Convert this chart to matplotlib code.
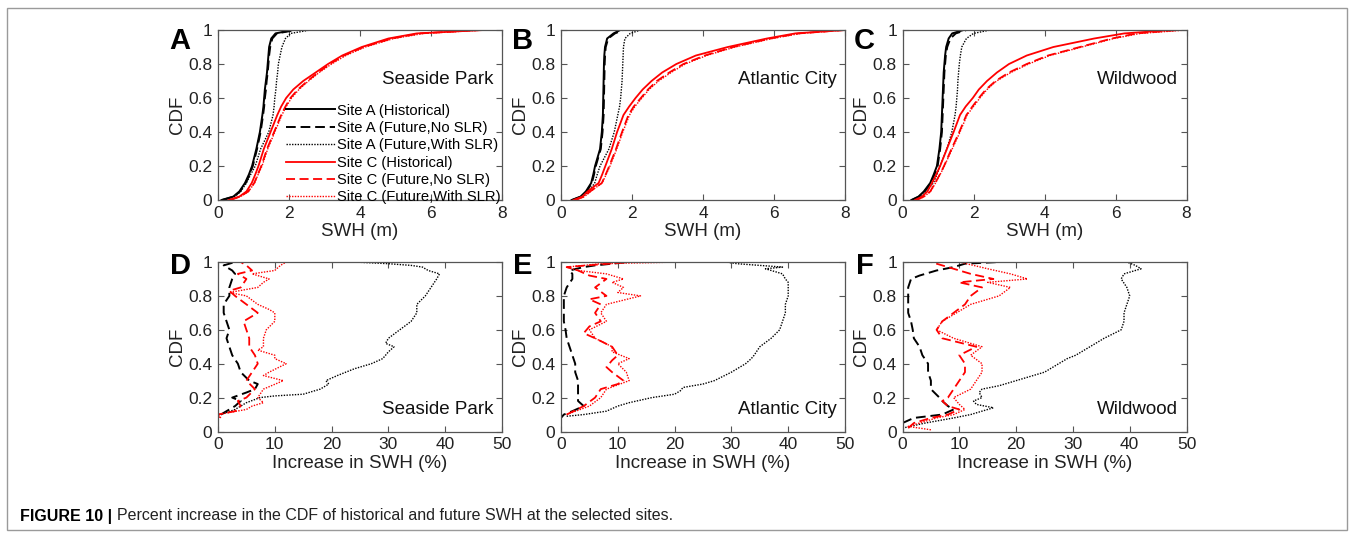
import numpy as np
import matplotlib
matplotlib.use('Agg')
import matplotlib.pyplot as plt
from matplotlib.patches import Rectangle

plt.rcParams['font.family'] = ['Liberation Sans', 'DejaVu Sans']

# CDF levels used for the quantile curves (top row)
cdf_q = [0, 0.02, 0.05, 0.1, 0.15, 0.2, 0.3, 0.4, 0.5, 0.55, 0.6, 0.65, 0.7, 0.75, 0.8, 0.85, 0.9, 0.95, 0.98, 1.0]

# SWH (m) at each CDF level - Seaside Park
sp_a_hist = [0.1, 0.43, 0.6, 0.76, 0.87, 0.96, 1.08, 1.18, 1.25, 1.28, 1.3, 1.32, 1.35, 1.38, 1.4, 1.42, 1.44, 1.5, 1.62, 2.1]
sp_a_fut = [0.12, 0.45, 0.62, 0.78, 0.89, 0.98, 1.1, 1.2, 1.27, 1.3, 1.32, 1.35, 1.37, 1.4, 1.42, 1.44, 1.47, 1.53, 1.66, 2.2]
sp_a_slr = [0.15, 0.47, 0.64, 0.8, 0.92, 1.05, 1.2, 1.43, 1.55, 1.58, 1.6, 1.63, 1.65, 1.68, 1.7, 1.75, 1.8, 1.9, 2.05, 2.6]
sp_c_hist = [0.3, 0.6, 0.8, 0.95, 1.05, 1.14, 1.29, 1.48, 1.67, 1.78, 1.92, 2.12, 2.4, 2.75, 3.1, 3.5, 4.05, 4.8, 5.6, 7.5]
sp_c_fut = [0.35, 0.62, 0.85, 1.02, 1.12, 1.22, 1.38, 1.58, 1.78, 1.9, 2.04, 2.25, 2.52, 2.82, 3.15, 3.55, 4.1, 4.9, 5.7, 7.4]
sp_c_slr = [0.35, 0.63, 0.86, 1.03, 1.13, 1.24, 1.4, 1.6, 1.8, 1.92, 2.07, 2.28, 2.55, 2.85, 3.2, 3.6, 4.15, 4.95, 5.8, 7.5]

# Atlantic City
ac_a_hist = [0.3, 0.55, 0.7, 0.85, 0.91, 0.96, 1.1, 1.15, 1.18, 1.185, 1.19, 1.195, 1.2, 1.205, 1.21, 1.22, 1.24, 1.3, 1.48, 1.67]
ac_a_fut = [0.32, 0.57, 0.72, 0.87, 0.93, 0.98, 1.12, 1.17, 1.2, 1.205, 1.21, 1.215, 1.22, 1.225, 1.23, 1.24, 1.26, 1.33, 1.52, 1.75]
ac_a_slr = [0.35, 0.6, 0.78, 0.95, 1.02, 1.1, 1.35, 1.5, 1.6, 1.65, 1.68, 1.7, 1.72, 1.73, 1.74, 1.75, 1.76, 1.8, 1.95, 2.24]
ac_c_hist = [0.35, 0.6, 0.75, 1.06, 1.16, 1.25, 1.43, 1.58, 1.76, 1.92, 2.1, 2.3, 2.55, 2.85, 3.25, 3.8, 4.7, 5.8, 6.6, 8.0]
ac_c_fut = [0.4, 0.65, 0.82, 1.15, 1.26, 1.36, 1.55, 1.72, 1.9, 2.05, 2.25, 2.45, 2.7, 3.05, 3.45, 4.05, 4.85, 5.9, 6.7, 8.0]
ac_c_slr = [0.4, 0.66, 0.83, 1.16, 1.27, 1.38, 1.57, 1.74, 1.93, 2.08, 2.28, 2.48, 2.75, 3.1, 3.5, 4.1, 4.9, 5.95, 6.75, 8.0]

# Wildwood
ww_a_hist = [0.25, 0.45, 0.6, 0.78, 0.88, 0.97, 1.04, 1.09, 1.11, 1.12, 1.13, 1.14, 1.15, 1.16, 1.18, 1.2, 1.23, 1.3, 1.4, 1.72]
ww_a_fut = [0.27, 0.47, 0.62, 0.8, 0.9, 0.99, 1.06, 1.11, 1.13, 1.14, 1.15, 1.16, 1.17, 1.18, 1.2, 1.22, 1.26, 1.35, 1.5, 1.8]
ww_a_slr = [0.3, 0.5, 0.66, 0.87, 0.97, 1.06, 1.25, 1.39, 1.48, 1.51, 1.53, 1.55, 1.56, 1.58, 1.6, 1.63, 1.67, 1.8, 2.0, 2.47]
ww_c_hist = [0.35, 0.55, 0.7, 0.83, 0.95, 1.06, 1.25, 1.44, 1.62, 1.78, 1.98, 2.15, 2.38, 2.66, 3.0, 3.5, 4.25, 5.4, 6.25, 7.6]
ww_c_fut = [0.4, 0.6, 0.78, 0.92, 1.05, 1.17, 1.38, 1.6, 1.8, 1.97, 2.15, 2.35, 2.62, 3.0, 3.5, 4.1, 5.0, 5.9, 6.6, 7.8]
ww_c_slr = [0.4, 0.61, 0.79, 0.93, 1.06, 1.18, 1.4, 1.62, 1.82, 2.0, 2.18, 2.38, 2.65, 3.05, 3.55, 4.15, 5.05, 5.95, 6.7, 8.0]

# Increase in SWH (%) vs CDF (bottom row)
# Seaside Park
sp_inc_a_fut_cdf = [0.1, 0.13, 0.15, 0.18, 0.2, 0.23, 0.25, 0.28, 0.3, 0.35, 0.4, 0.45, 0.5, 0.55, 0.6, 0.65, 0.7, 0.75, 0.8, 0.85, 0.9, 0.93, 0.95, 0.98, 1.0]
sp_inc_a_fut = [0.5, 2, 3, 4, 2.5, 5, 6.5, 7, 5.5, 4, 3.5, 2.5, 2, 1.5, 2, 1.5, 1, 1, 2, 2, 2.5, 3, 2.5, 1, 3]
sp_inc_a_slr_cdf = [0.1, 0.13, 0.15, 0.17, 0.2, 0.21, 0.22, 0.25, 0.28, 0.3, 0.33, 0.37, 0.4, 0.43, 0.47, 0.5, 0.52, 0.55, 0.6, 0.65, 0.7, 0.75, 0.8, 0.85, 0.9, 0.93, 0.95, 0.97, 0.98, 0.99, 1.0]
sp_inc_a_slr = [0.5, 3, 4, 5, 7.4, 10, 15, 18, 19.5, 19, 21, 24, 27, 29, 30, 31, 29.5, 30, 32, 34, 35, 35, 36.5, 37.5, 38.5, 39, 37, 36, 34, 30, 24]
sp_inc_c_fut_cdf = [0.08, 0.1, 0.12, 0.15, 0.18, 0.2, 0.25, 0.3, 0.35, 0.4, 0.45, 0.5, 0.55, 0.6, 0.65, 0.7, 0.75, 0.8, 0.83, 0.85, 0.9, 0.93, 0.95, 0.98, 1.0]
sp_inc_c_fut = [0.2, 0, 3, 4, 3.5, 5, 6.5, 5, 6, 7, 6.5, 5.5, 5.5, 5, 4.5, 7, 5, 3, 2, 4, 5, 3.5, 6, 5, 4]
sp_inc_c_slr_cdf = [0.08, 0.1, 0.13, 0.15, 0.17, 0.2, 0.25, 0.3, 0.33, 0.35, 0.4, 0.43, 0.45, 0.48, 0.5, 0.55, 0.6, 0.65, 0.7, 0.72, 0.75, 0.8, 0.82, 0.85, 0.88, 0.9, 0.93, 0.95, 0.98, 1.0]
sp_inc_c_slr = [0.5, 0, 5, 6, 8, 7, 8, 11.5, 8, 9, 12, 10, 10, 7, 8, 8, 8.5, 10, 10, 9, 7, 5, 2, 7, 8, 9, 6, 10, 11, 12]

# Atlantic City
ac_inc_a_fut_cdf = [0.06, 0.08, 0.1, 0.12, 0.15, 0.18, 0.22, 0.25, 0.3, 0.35, 0.4, 0.45, 0.5, 0.55, 0.6, 0.65, 0.7, 0.75, 0.8, 0.85, 0.9, 0.93, 0.95, 0.97, 0.98, 1.0]
ac_inc_a_fut = [0, 0, 0.5, 2, 4, 3, 3, 3, 3, 2.5, 2.5, 2, 1.5, 1, 0.8, 0.5, 0.5, 0.5, 0.5, 1, 2, 2, 1.5, 4, 6, 12]
ac_inc_a_slr_cdf = [0.09, 0.1, 0.12, 0.15, 0.17, 0.2, 0.22, 0.24, 0.26, 0.28, 0.3, 0.35, 0.4, 0.43, 0.45, 0.5, 0.55, 0.6, 0.65, 0.7, 0.75, 0.8, 0.85, 0.88, 0.9, 0.93, 0.96, 0.97, 0.98, 0.99, 1.0]
ac_inc_a_slr = [1, 4, 8, 10, 12, 16, 20, 21, 21.5, 25, 27, 30, 32.5, 33.5, 34, 35, 37, 38.5, 39, 39.5, 39.5, 40, 40, 40, 39.5, 39, 36, 39, 35, 31, 29]
ac_inc_c_fut_cdf = [0.1, 0.15, 0.2, 0.25, 0.28, 0.3, 0.35, 0.38, 0.42, 0.45, 0.5, 0.55, 0.58, 0.62, 0.65, 0.7, 0.75, 0.78, 0.8, 0.85, 0.9, 0.92, 0.95, 0.97, 1.0]
ac_inc_c_fut = [1, 4, 6, 7, 10, 11, 9, 8, 9, 10, 9, 6, 4, 5, 7, 6, 7, 5, 8, 6, 8, 5, 3, 1, 12]
ac_inc_c_slr_cdf = [0.1, 0.15, 0.2, 0.25, 0.3, 0.35, 0.4, 0.43, 0.47, 0.5, 0.55, 0.6, 0.65, 0.7, 0.75, 0.8, 0.82, 0.85, 0.88, 0.9, 0.93, 0.95, 0.97, 0.99, 1.0]
ac_inc_c_slr = [1, 5, 7, 8, 12, 11.5, 10, 12, 9, 9, 6, 5, 8, 7, 8, 14, 10, 11, 9, 11, 8, 3, 1, 7, 21]

# Wildwood
ww_inc_a_fut_cdf = [0.05, 0.08, 0.1, 0.13, 0.15, 0.18, 0.2, 0.25, 0.3, 0.35, 0.4, 0.45, 0.5, 0.55, 0.6, 0.65, 0.7, 0.75, 0.8, 0.85, 0.9, 0.92, 0.95, 0.97, 0.99, 1.0]
ww_inc_a_fut = [0, 2, 7, 9, 8, 7, 6.5, 5, 5, 4.5, 4.5, 3.5, 3, 2, 1.8, 1.5, 1, 1, 1, 1, 1.5, 3, 6, 9, 11, 17]
ww_inc_a_slr_cdf = [0.02, 0.05, 0.08, 0.1, 0.12, 0.14, 0.16, 0.18, 0.2, 0.23, 0.25, 0.27, 0.3, 0.32, 0.35, 0.4, 0.43, 0.45, 0.5, 0.55, 0.6, 0.65, 0.7, 0.75, 0.8, 0.85, 0.9, 0.93, 0.96, 0.98, 1.0]
ww_inc_a_slr = [0, 4, 9, 12, 14, 16, 13, 12.5, 14, 13.5, 14, 17, 20, 22, 25, 27.5, 29, 30.5, 33, 35.5, 38.5, 39, 39, 39.5, 40, 39.5, 38.5, 39, 42, 41, 39.5]
ww_inc_c_fut_cdf = [0.02, 0.05, 0.08, 0.1, 0.13, 0.15, 0.18, 0.2, 0.25, 0.3, 0.35, 0.4, 0.45, 0.5, 0.55, 0.6, 0.65, 0.7, 0.75, 0.8, 0.85, 0.88, 0.9, 0.93, 0.96, 1.0]
ww_inc_c_fut = [1, 2, 5, 8, 10, 8, 7, 8, 9, 10, 11, 11, 10, 13, 7, 6, 7, 9, 11, 12, 14, 10, 16, 12, 9, 5]
ww_inc_c_slr_cdf = [0.01, 0.03, 0.05, 0.08, 0.1, 0.13, 0.16, 0.2, 0.25, 0.3, 0.35, 0.4, 0.45, 0.5, 0.55, 0.6, 0.65, 0.7, 0.75, 0.8, 0.85, 0.88, 0.9, 0.93, 0.96, 1.0]
ww_inc_c_slr = [5, 1, 3, 6, 9, 11, 10, 9, 12, 13, 14, 14, 12, 14, 9, 6, 7, 9.5, 12, 17, 19, 15, 22, 19, 15, 10]

legend_labels = ['Site A (Historical)', 'Site A (Future,No SLR)', 'Site A (Future,With SLR)',
                 'Site C (Historical)', 'Site C (Future,No SLR)', 'Site C (Future,With SLR)']
site_names = ['Seaside Park', 'Atlantic City', 'Wildwood']
panel_letters = ['A', 'B', 'C', 'D', 'E', 'F']

W, H = 1355, 538
fig = plt.figure(figsize=(W / 100, H / 100), dpi=100)

# frame around the whole figure
fig.patches.append(Rectangle((7 / W, 8 / H), 1340 / W, 522 / H, transform=fig.transFigure,
                             fill=False, edgecolor='#9a9a9a', linewidth=1.0))

lefts = [218, 561, 902.5]
ax_w = 284
top_row = (30, 200)
bot_row = (262, 431.5)

styles = [
    dict(color='black', linestyle='-', linewidth=1.4),
    dict(color='black', linestyle=(0, (5, 2.5)), linewidth=1.4),
    dict(color='black', linestyle=(0, (1, 1)), linewidth=1.0),
    dict(color='red', linestyle='-', linewidth=1.3),
    dict(color='red', linestyle=(0, (5, 2.5)), linewidth=1.3),
    dict(color='red', linestyle=(0, (1, 1)), linewidth=1.0),
]

top_data = [
    [sp_a_hist, sp_a_fut, sp_a_slr, sp_c_hist, sp_c_fut, sp_c_slr],
    [ac_a_hist, ac_a_fut, ac_a_slr, ac_c_hist, ac_c_fut, ac_c_slr],
    [ww_a_hist, ww_a_fut, ww_a_slr, ww_c_hist, ww_c_fut, ww_c_slr],
]
bot_data = [
    [(sp_inc_a_fut, sp_inc_a_fut_cdf), (sp_inc_a_slr, sp_inc_a_slr_cdf),
     (sp_inc_c_fut, sp_inc_c_fut_cdf), (sp_inc_c_slr, sp_inc_c_slr_cdf)],
    [(ac_inc_a_fut, ac_inc_a_fut_cdf), (ac_inc_a_slr, ac_inc_a_slr_cdf),
     (ac_inc_c_fut, ac_inc_c_fut_cdf), (ac_inc_c_slr, ac_inc_c_slr_cdf)],
    [(ww_inc_a_fut, ww_inc_a_fut_cdf), (ww_inc_a_slr, ww_inc_a_slr_cdf),
     (ww_inc_c_fut, ww_inc_c_fut_cdf), (ww_inc_c_slr, ww_inc_c_slr_cdf)],
]
bot_styles = [styles[1], styles[2], styles[4], styles[5]]


def style_axes(ax):
    for s in ax.spines.values():
        s.set_color('#555555')
        s.set_linewidth(0.9)
    ax.tick_params(direction='in', top=True, right=True, length=4, width=0.8,
                   color='#555555', labelsize=12.5, pad=4, labelcolor='#222222')
    ax.set_ylim(0, 1)
    ax.set_yticks([0, 0.2, 0.4, 0.6, 0.8, 1])
    ax.set_yticklabels(['0', '0.2', '0.4', '0.6', '0.8', '1'])
    ax.set_ylabel('CDF', fontsize=13.5, color='#222222', labelpad=2)


for i in range(3):
    l = lefts[i]
    # top row: CDF of SWH
    ax = fig.add_axes([l / W, 1 - top_row[1] / H, ax_w / W, (top_row[1] - top_row[0]) / H])
    for vals, st, lab in zip(top_data[i], styles, legend_labels):
        ax.plot(vals, cdf_q, label=lab, **st)
    ax.set_xlim(0, 8)
    ax.set_xticks([0, 2, 4, 6, 8])
    style_axes(ax)
    ax.set_xlabel('SWH (m)', fontsize=13.5, color='#222222', labelpad=2)
    ax.text(0.97, 0.71, site_names[i], transform=ax.transAxes, ha='right', va='center',
            fontsize=13.5, color='#111111')
    fig.text((l - 38) / W, 1 - 41 / H, panel_letters[i], fontsize=21, fontweight='bold',
             ha='center', va='center')
    if i == 0:
        ax.legend(loc='lower right', bbox_to_anchor=(1.0, -0.035), frameon=False,
                  fontsize=10.6, handlelength=3.3, handletextpad=0.15, labelspacing=0.23,
                  borderpad=0.1, borderaxespad=0.0)

    # bottom row: increase in SWH
    ax2 = fig.add_axes([l / W, 1 - bot_row[1] / H, ax_w / W, (bot_row[1] - bot_row[0]) / H])
    for (vals, cdf), st in zip(bot_data[i], bot_styles):
        ax2.plot(vals, cdf, **st)
    ax2.set_xlim(0, 50)
    ax2.set_xticks([0, 10, 20, 30, 40, 50])
    style_axes(ax2)
    ax2.set_xlabel('Increase in SWH (%)', fontsize=13.5, color='#222222', labelpad=2)
    ax2.text(0.97, 0.13, site_names[i], transform=ax2.transAxes, ha='right', va='center',
             fontsize=13.5, color='#111111')
    fig.text((l - 38) / W, 1 - 266 / H, panel_letters[i + 3], fontsize=21, fontweight='bold',
             ha='center', va='center')

# caption
fig.text(20 / W, 1 - 516 / H, 'FIGURE 10 |', fontsize=11.5, fontweight='bold', va='center')
fig.text(117 / W, 1 - 516 / H, 'Percent increase in the CDF of historical and future SWH at the selected sites.',
         fontsize=11.5, va='center', color='#222222')

fig.savefig('out.png', dpi=100)
